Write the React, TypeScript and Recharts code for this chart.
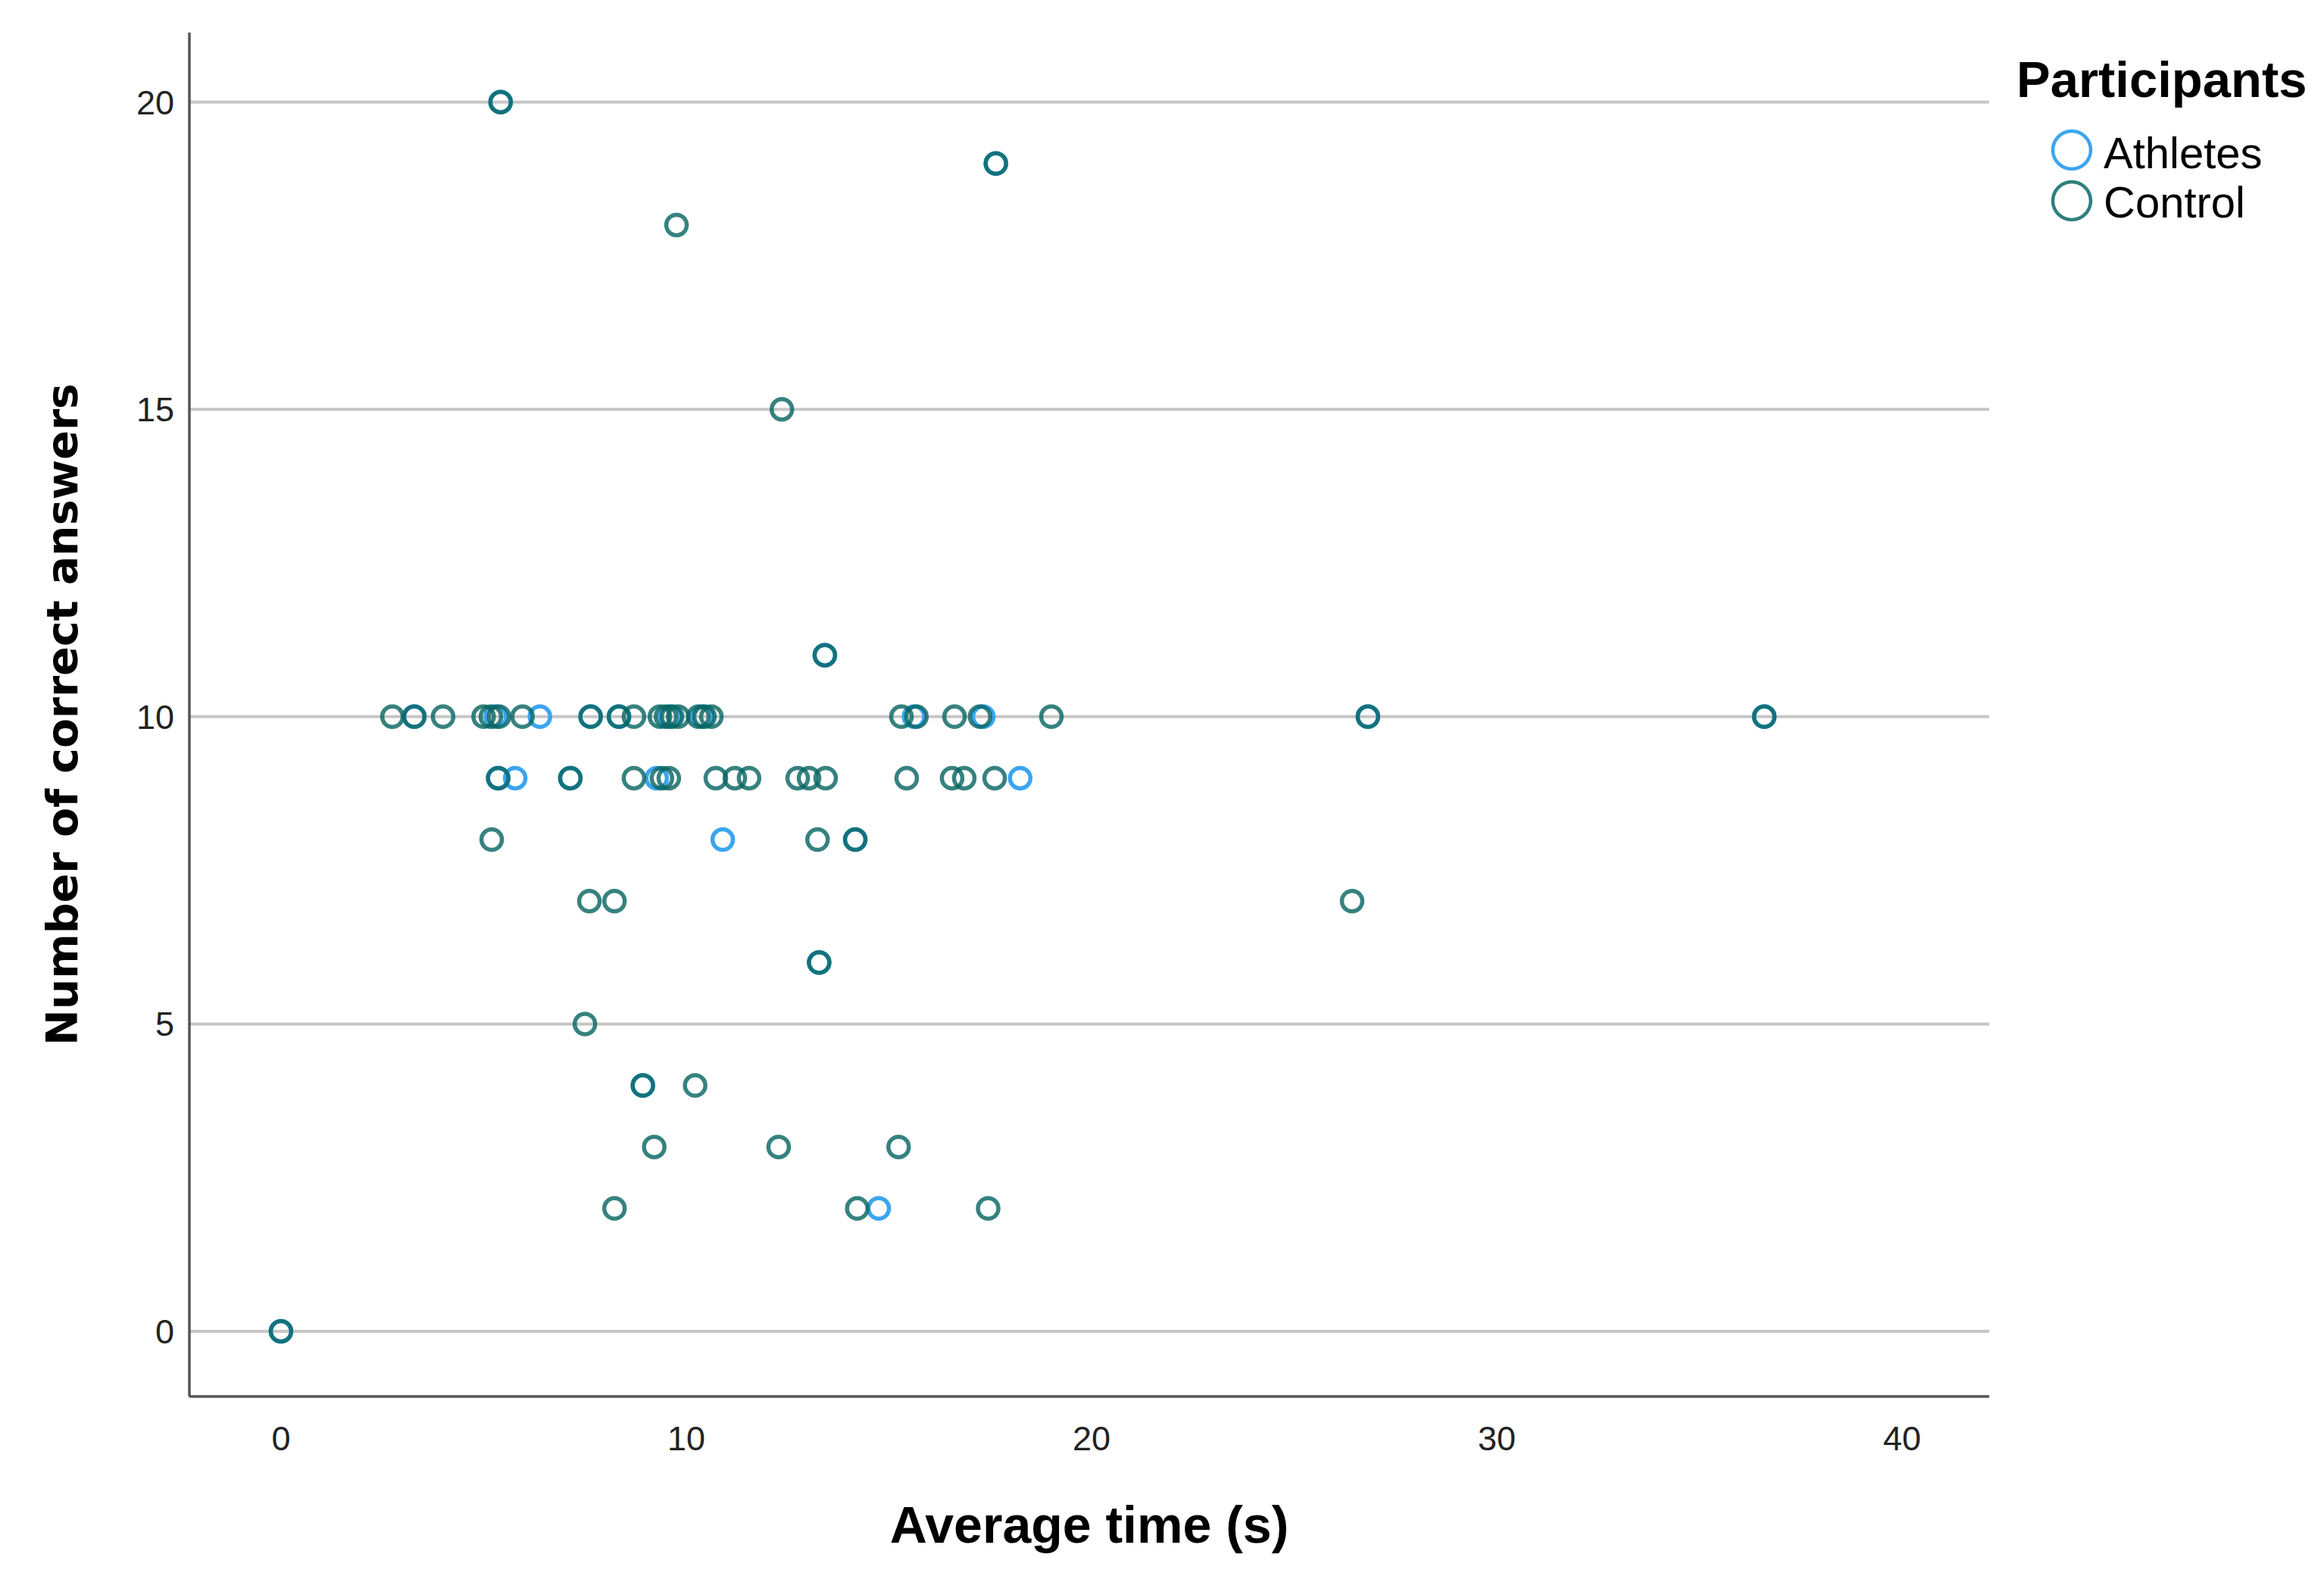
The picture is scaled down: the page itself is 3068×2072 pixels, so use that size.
import React from "react";
import {
  CartesianGrid,
  Label,
  Legend,
  Scatter,
  ScatterChart,
  XAxis,
  YAxis,
} from "recharts";

// Athletes (drawn first, Control sits on top of them)
const athleteTime = [
  0, 5.42, 17.64, 13.42, 3.29, 5.3, 6.39, 7.64, 8.34, 9.6, 10.4, 15.62, 17.33,
  26.82, 36.6, 5.36, 5.78, 7.14, 9.27, 18.24, 10.9, 14.17, 13.28, 8.93, 14.75,
];
const athleteCorrect = [
  0, 20, 19, 11, 10, 10, 10, 10, 10, 10, 10, 10, 10, 10, 10, 9, 9, 9, 9, 9, 8,
  8, 6, 4, 2,
];

// Control
const controlTime = [
  0, 8.23, 14.22, 17.45, 9.21, 12.28, 15.24, 8.93, 10.22, 7.5, 13.28, 7.61,
  8.23, 26.43, 5.2, 13.24, 14.17, 5.36, 7.14, 8.71, 9.4, 9.57, 10.73, 11.2,
  11.55, 12.75, 13.03, 13.44, 15.44, 16.56, 16.86, 17.61, 2.75, 3.29, 4.0, 5.0,
  5.18, 5.38, 5.96, 7.64, 8.34, 8.71, 9.35, 9.5, 9.65, 9.8, 10.3, 10.45, 10.62,
  15.31, 15.68, 16.62, 17.25, 19.01, 26.82, 36.6, 13.42, 12.36, 9.76, 17.64,
  5.42,
];
const controlCorrect = [
  0, 2, 2, 2, 3, 3, 3, 4, 4, 5, 6, 7, 7, 7, 8, 8, 8, 9, 9, 9, 9, 9, 9, 9, 9, 9,
  9, 9, 9, 9, 9, 9, 10, 10, 10, 10, 10, 10, 10, 10, 10, 10, 10, 10, 10, 10, 10,
  10, 10, 10, 10, 10, 10, 10, 10, 10, 11, 15, 18, 19, 20,
];

const xTicks = [0, 10, 20, 30, 40];
const yTicks = [0, 5, 10, 15, 20];

const athletes = athleteTime.map((t, i) => ({ time: t, correct: athleteCorrect[i] }));
const control = controlTime.map((t, i) => ({ time: t, correct: controlCorrect[i] }));

const ATHLETE = "#3ba5f0";
const CONTROL = "#0a6663";

const tickStyle = { fontFamily: "Liberation Sans, Arial, sans-serif", fontSize: 45, fill: "#222" };

function ring(color: string, opacity: number) {
  return (props: any) => (
    <circle
      cx={props.cx}
      cy={props.cy}
      r={13.5}
      fill="none"
      stroke={color}
      strokeOpacity={opacity}
      strokeWidth={5.5}
    />
  );
}

function YTitle(props: any) {
  const vb = props.viewBox || { x: 142, y: 35, width: 100, height: 1800 };
  const cy = vb.y + vb.height / 2;
  const x = 94;
  return (
    <text
      x={x}
      y={cy}
      transform={`rotate(-90, ${x}, ${cy})`}
      textAnchor="middle"
      fontFamily="DejaVu Sans, sans-serif"
      fontWeight="bold"
      fontSize={57}
      fill="#000"
    >
      Number of correct answers
    </text>
  );
}

function ParticipantsLegend() {
  return (
    <svg width={430} height={260}>
      <text x={22} y={68} fontFamily="Liberation Sans, Arial, sans-serif" fontWeight="bold" fontSize={67} fill="#000">
        Participants
      </text>
      <circle cx={95} cy={138} r={25} fill="none" stroke={ATHLETE} strokeWidth={4.5} />
      <text x={137} y={162} fontFamily="Liberation Sans, Arial, sans-serif" fontSize={58} fill="#000">
        Athletes
      </text>
      <circle cx={95} cy={205} r={25} fill="none" stroke="#2e807c" strokeWidth={4.5} />
      <text x={137} y={227} fontFamily="Liberation Sans, Arial, sans-serif" fontSize={58} fill="#000">
        Control
      </text>
    </svg>
  );
}

export default function App() {
  return (
    <div style={{ width: 3052, height: 2056, background: "#fff" }}>
      <ScatterChart
        width={3052}
        height={2056}
        margin={{ top: 35, right: 434, bottom: 121, left: 142 }}
      >
        <CartesianGrid vertical={false} syncWithTicks stroke="#c6c6c6" strokeWidth={4} />
        <XAxis
          type="number"
          dataKey="time"
          domain={[-2.26, 42.15]}
          ticks={xTicks}
          height={100}
          tickLine={false}
          tickSize={0}
          tickMargin={39}
          axisLine={{ stroke: "#555", strokeWidth: 3.5 }}
          tick={tickStyle}
        >
          <Label
            value="Average time (s)"
            position="bottom"
            offset={45}
            style={{
              fontFamily: "Liberation Sans, Arial, sans-serif",
              fontWeight: "bold",
              fontSize: 68,
              fill: "#000",
            }}
          />
        </XAxis>
        <YAxis
          type="number"
          dataKey="correct"
          domain={[-1.06, 21.13]}
          ticks={yTicks}
          width={100}
          tickLine={false}
          tickSize={0}
          tickMargin={20}
          axisLine={{ stroke: "#555", strokeWidth: 3.5 }}
          tick={tickStyle}
        >
          <Label content={<YTitle />} />
        </YAxis>
        <Legend
          layout="horizontal"
          align="center"
          verticalAlign="middle"
          content={<ParticipantsLegend />}
          wrapperStyle={{ position: "absolute", left: 2632, top: 52, width: 430, height: 260 }}
        />
        <Scatter
          name="Athletes"
          data={athletes}
          isAnimationActive={false}
          shape={ring(ATHLETE, 1)}
        />
        <Scatter
          name="Control"
          data={control}
          isAnimationActive={false}
          shape={ring(CONTROL, 0.82)}
        />
      </ScatterChart>
    </div>
  );
}
